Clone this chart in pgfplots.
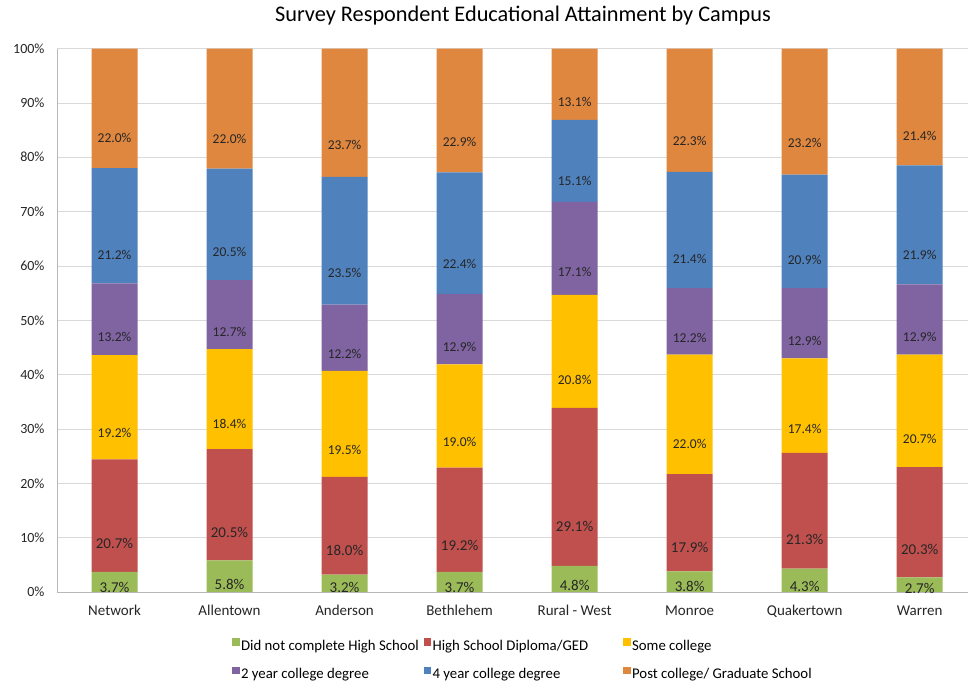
\documentclass[border=0pt]{standalone}
\usepackage{pgfplots}
\pgfplotsset{compat=1.18}
\usepackage{pgfplotstable}
\usepackage{fontspec}
\setmainfont{Carlito}
\definecolor{cG}{HTML}{9BBB59}
\definecolor{cR}{HTML}{C0504D}
\definecolor{cY}{HTML}{FFC000}
\definecolor{cP}{HTML}{8064A2}
\definecolor{cB}{HTML}{4F81BD}
\definecolor{cO}{HTML}{E0873F}
\definecolor{lbl}{HTML}{262626}
% o = label value of the top segment; ot = its drawn height (100% stacked)
\pgfplotstableread{
x g r y p b o ot
0 3.7 20.7 19.2 13.2 21.2 22.0 22.0
1 5.8 20.5 18.4 12.7 20.5 22.0 22.1
2 3.2 18.0 19.5 12.2 23.5 23.7 23.6
3 3.7 19.2 19.0 12.9 22.4 22.9 22.8
4 4.8 29.1 20.8 17.1 15.1 13.1 13.1
5 3.8 17.9 22.0 12.2 21.4 22.3 22.7
6 4.3 21.3 17.4 12.9 20.9 23.2 23.2
7 2.7 20.3 20.7 12.9 21.9 21.4 21.5
}\data
\pgfplotsset{
  seg/.style n args={3}{
    fill=#2, draw=none,
    nodes near coords={\pgfmathprintnumber[fixed,fixed zerofill,precision=1,assume math mode=true]{\pgfplotspointmeta}\%},
    point meta=explicit,
    visualization depends on={\thisrow{#1} \as \rawy},
    every node near coord/.append style={anchor=center, text=lbl, font=#3,
      shift={(axis direction cs:0,-\rawy/4)}},
    legend image code/.code={\fill[#2] (0pt,0.3pt) rectangle (7.5pt,7.8pt);}
  }
}
\begin{document}
\begin{tikzpicture}
\path[use as bounding box] (-57pt,-93pt) rectangle (912pt,592pt);
\begin{axis}[
  at={(0,0)}, anchor=south west,
  scale only axis, width=911pt, height=543.4pt,
  ybar stacked, bar width=0.4,
  xmin=-0.5, xmax=7.42, ymin=0, ymax=100,
  xtick=data,
  xticklabels={Network,Allentown,Anderson,Bethlehem,Rural - West,Monroe,Quakertown,Warren},
  ytick={0,10,...,100},
  yticklabel={\pgfmathprintnumber[assume math mode=true]{\tick}\%},
  ymajorgrids, grid style={draw=black!15, line width=0.8pt},
  axis x line*=bottom, axis y line*=left,
  axis line style={draw=black!28, line width=0.8pt},
  x axis line style={-}, y axis line style={-},
  major tick length=0pt,
  tick label style={text=black!85},
  yticklabel style={xshift=-9pt, font=\fontsize{14}{16}\selectfont},
  xticklabel style={yshift=-10pt, font=\fontsize{15}{17}\selectfont},
  title={Survey Respondent Educational Attainment by Campus},
  title style={font=\fontsize{22.3}{26}\selectfont, at={(0.5115,1)}, anchor=center, yshift=27pt},
  legend columns=3,
  legend cell align=left,
  legend style={at={(0.192,-0.085)}, anchor=north west, draw=none, inner sep=0pt,
    font=\fontsize{14.8}{17}\selectfont, nodes={inner sep=1.5pt},
    row sep=13pt},
  clip=false,
]
\addplot[seg={g}{cG}{\fontsize{15}{17}\selectfont}] table[x=x,y=g,meta=g]{\data};
\addplot[seg={r}{cR}{\fontsize{15}{17}\selectfont}] table[x=x,y=r,meta=r]{\data};
\addplot[seg={y}{cY}{\fontsize{13.5}{15}\selectfont}] table[x=x,y=y,meta=y]{\data};
\addplot[seg={p}{cP}{\fontsize{13.5}{15}\selectfont}] table[x=x,y=p,meta=p]{\data};
\addplot[seg={b}{cB}{\fontsize{13.5}{15}\selectfont}] table[x=x,y=b,meta=b]{\data};
\addplot[seg={ot}{cO}{\fontsize{13.5}{15}\selectfont}] table[x=x,y=ot,meta=o]{\data};
\legend{\makebox[181pt][l]{Did not complete High School},
        \makebox[189pt][l]{High School Diploma/GED},
        \makebox[185pt][l]{Some college},
        \makebox[181pt][l]{2 year college degree},
        \makebox[189pt][l]{4 year college degree},
        \makebox[185pt][l]{Post college/ Graduate School}}
\end{axis}
\end{tikzpicture}
\end{document}
